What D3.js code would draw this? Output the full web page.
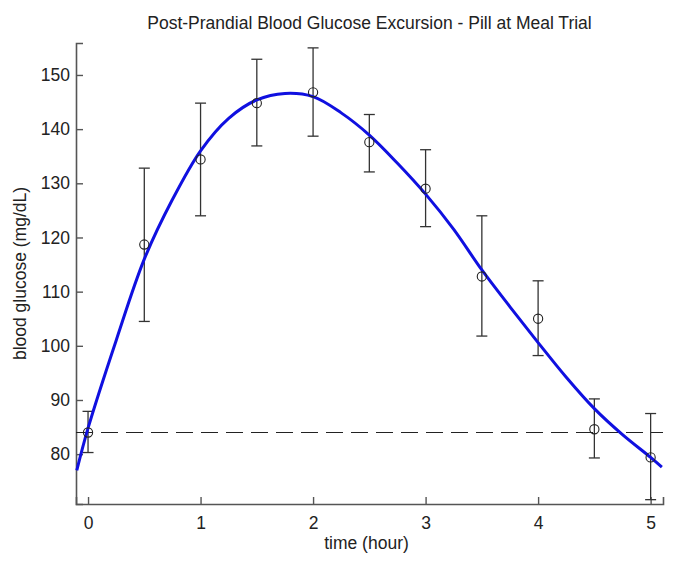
<!DOCTYPE html>
<html>
<head>
<meta charset="utf-8">
<script src="https://cdn.jsdelivr.net/npm/d3@7"></script>
<style>
  body { margin: 0; background: #fff; }
  text { font-family: "Liberation Sans", Arial, sans-serif; fill: #222; }
</style>
</head>
<body>
<script>
// measured points (mean +/- error)
const times = [0, 0.5, 1, 1.5, 2, 2.5, 3, 3.5, 4, 4.5, 5];
const means = [84.0, 118.7, 134.4, 144.8, 146.8, 137.6, 129.0, 112.8, 105.0, 84.6, 79.4];
const upper = [87.9, 132.8, 144.8, 152.9, 155.0, 142.7, 136.2, 124.0, 112.0, 90.2, 87.5];
const lower = [80.3, 104.5, 124.0, 136.9, 138.7, 132.1, 122.0, 101.8, 98.2, 79.3, 71.6];

// fitted curve
const fitT = [-0.1, 0, 0.25, 0.5, 0.75, 1, 1.25, 1.5, 1.75, 2, 2.25, 2.5, 2.75, 3, 3.25, 3.5, 3.75, 4, 4.25, 4.5, 4.75, 5, 5.1];
const fitV = [77.0, 84.8, 101.0, 116.0, 127.0, 136.0, 142.0, 145.4, 146.6, 146.0, 143.0, 138.9, 133.7, 128.0, 121.5, 114.0, 107.2, 100.6, 94.2, 88.4, 83.6, 79.4, 77.6];

const baseline = 84.0;
const xTicks = [0, 1, 2, 3, 4, 5];
const yTicks = [80, 90, 100, 110, 120, 130, 140, 150];

const W = 685, H = 569;
const plotL = 76, plotR = 663, plotT = 43, plotB = 504;

const svg = d3.select('body')
    .append('svg')
    .attr("width", W)
    .attr("height", H);

const x = d3.scaleLinear().domain([-0.107, 5.11]).range([plotL, plotR]);
const y = d3.scaleLinear().domain([70.8, 155.9]).range([plotB, plotT]);

const axisColor = "#555";

// axes (ticks inside, like matlab)
const xAxis = svg.append('g')
    .attr('transform', `translate(0,${plotB})`)
    .call(d3.axisBottom(x).tickValues(xTicks).tickSize(-7).tickPadding(13).tickFormat(d3.format('d')));
const yAxis = svg.append('g')
    .attr('transform', `translate(${plotL},0)`)
    .call(d3.axisLeft(y).tickValues(yTicks).tickSize(-7).tickPadding(6).tickFormat(d3.format('d')));

[xAxis, yAxis].forEach(g => {
    g.select('.domain').attr('stroke', axisColor).attr('stroke-width', 1.6);
    g.selectAll('.tick line').attr('stroke', axisColor).attr('stroke-width', 1.4);
    g.selectAll('.tick text').attr('font-size', 17.5).attr('fill', '#333')
        .attr('font-family', '"Liberation Sans", Arial, sans-serif');
});

// dashed baseline
svg.append('line')
    .attr('x1', x(-0.107)).attr('x2', x(5.11))
    .attr('y1', y(baseline)).attr('y2', y(baseline))
    .attr('stroke', '#222')
    .attr('stroke-width', 1.2)
    .attr('stroke-dasharray', '17,8');

// error bars
const eb = svg.append('g');
times.forEach((t, i) => {
    const cx = x(t);
    eb.append('line').attr('x1', cx).attr('x2', cx)
        .attr('y1', y(lower[i])).attr('y2', y(upper[i]))
        .attr('stroke', '#333').attr('stroke-width', 1.3);
    [lower[i], upper[i]].forEach(v => {
        eb.append('line').attr('x1', cx - 5.5).attr('x2', cx + 5.5)
            .attr('y1', y(v)).attr('y2', y(v))
            .attr('stroke', '#333').attr('stroke-width', 1.3);
    });
});

// fitted curve
const fit = fitT.map((t, i) => [t, fitV[i]]);
svg.append('path')
    .datum(fit)
    .attr('fill', 'none')
    .attr('stroke', '#1010e0')
    .attr('stroke-width', 3)
    .attr('d', d3.line().x(d => x(d[0])).y(d => y(d[1])).curve(d3.curveCatmullRom));

// mean markers
svg.append('g').selectAll('circle')
    .data(times)
    .enter().append('circle')
    .attr('cx', d => x(d))
    .attr('cy', (d, i) => y(means[i]))
    .attr('r', 4.6)
    .attr('fill', 'none')
    .attr('stroke', '#222')
    .attr('stroke-width', 1.1);

// labels
svg.append('text')
    .attr('x', (plotL + plotR) / 2).attr('y', 29)
    .attr('text-anchor', 'middle')
    .attr('font-size', 17.5)
    .text('Post-Prandial Blood Glucose Excursion - Pill at Meal Trial');

svg.append('text')
    .attr('x', (plotL + plotR) / 2 - 3).attr('y', 549)
    .attr('text-anchor', 'middle')
    .attr('font-size', 17.5)
    .text('time (hour)');

svg.append('text')
    .attr('transform', `translate(26,${(plotT + plotB) / 2}) rotate(-90)`)
    .attr('text-anchor', 'middle')
    .attr('font-size', 17.5)
    .text('blood glucose (mg/dL)');
</script>
</body>
</html>
